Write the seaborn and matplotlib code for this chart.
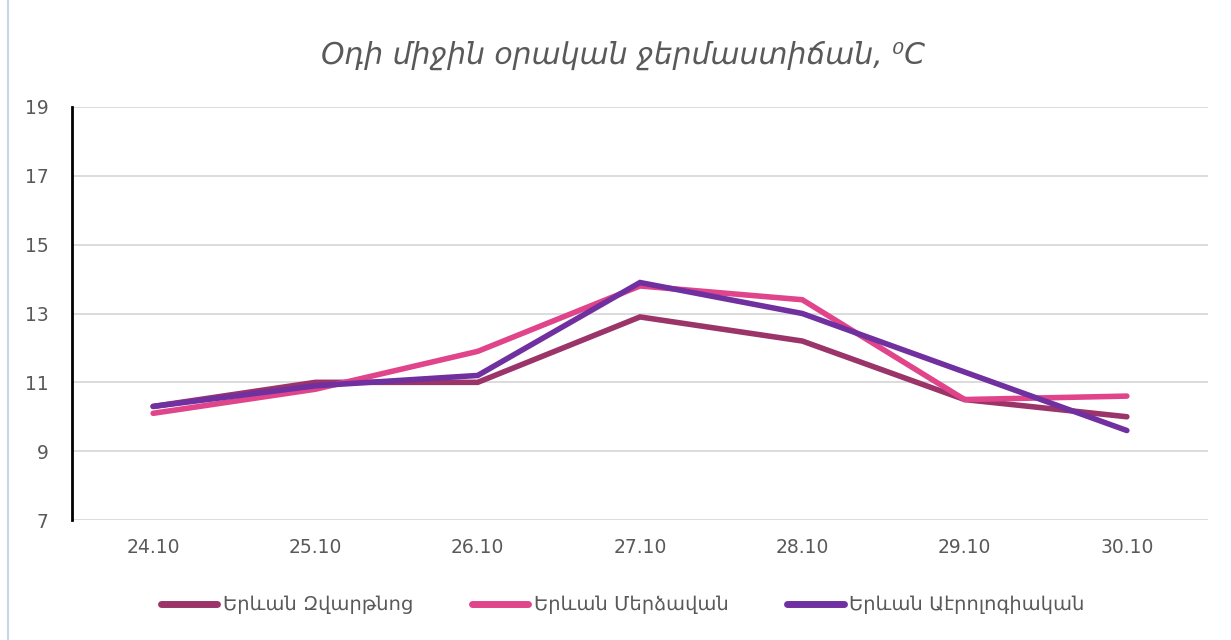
import matplotlib
matplotlib.use("Agg")
import matplotlib.pyplot as plt
import seaborn as sns
import pandas as pd
from matplotlib.lines import Line2D

dates = ["24.10", "25.10", "26.10", "27.10", "28.10", "29.10", "30.10"]
zvartnots = [10.3, 11.0, 11.0, 12.9, 12.2, 10.5, 10.0]
merdzavan = [10.1, 10.8, 11.9, 13.8, 13.4, 10.5, 10.6]
aerolog = [10.3, 10.9, 11.2, 13.9, 13.0, 11.3, 9.6]
series_names = ["Երևան Զվարթնոց", "Երևան Մերձավան", "Երևան Աէրոլոգիական"]
colors = ["#9B3468", "#E0448A", "#7030A0"]
yticks = [7, 9, 11, 13, 15, 17, 19]
title = "Օդի միջին օրական ջերմաստիճան, ⁰C"

rows = []
for name, vals in zip(series_names, [zvartnots, merdzavan, aerolog]):
    for i, (d, v) in enumerate(zip(dates, vals)):
        rows.append({"idx": i, "date": d, "value": v, "series": name})
df = pd.DataFrame(rows)

sns.set_theme(style="white")
plt.rcParams["font.family"] = ["DejaVu Sans"]

fig = plt.figure(figsize=(12.31, 6.4), dpi=100)
ax = fig.add_axes([72 / 1231, 1 - 520 / 640, (1208 - 72) / 1231, (520 - 107) / 640])

sns.lineplot(data=df, x="idx", y="value", hue="series", hue_order=series_names,
             palette=colors, linewidth=4, ax=ax, legend=False, sort=False)
for ln in ax.get_lines():
    ln.set_solid_capstyle("round")
    ln.set_solid_joinstyle("miter")

ax.set_xlim(-0.5, len(dates) - 0.5)
ax.set_ylim(7, 19)
ax.set_yticks(yticks)
ax.set_yticklabels([str(t) for t in yticks])
ax.set_xticks(range(len(dates)))
ax.set_xticklabels(dates)
ax.set_xlabel("")
ax.set_ylabel("")
ax.tick_params(axis="both", length=0, labelsize=13.5, colors="#595959")
ax.tick_params(axis="x", pad=13)
ax.tick_params(axis="y", pad=17)
ax.grid(axis="y", color="#D9D9D9", linewidth=1.3)
ax.set_axisbelow(True)
for s in ["top", "right", "bottom"]:
    ax.spines[s].set_visible(False)
ax.spines["left"].set_color("black")
ax.spines["left"].set_linewidth(2)
ax.spines["left"].set_zorder(5)

fig.text(0.506, 1 - 55 / 640, title, ha="center", va="center", fontsize=21.5,
         style="italic", color="#595959")

handles = [Line2D([0], [0], color=c, linewidth=5, solid_capstyle="round") for c in colors]
fig.legend(handles, series_names, loc="center", bbox_to_anchor=(0.506, 1 - 605 / 640),
           ncol=3, frameon=False, fontsize=14, handlelength=2.9, handletextpad=0.3,
           columnspacing=3.0, labelcolor="#595959")

fig.add_artist(Line2D([8 / 1231, 8 / 1231], [0, 1], color="#C5D5EA", linewidth=1.5,
                      transform=fig.transFigure))

fig.savefig("out.png", dpi=100)
